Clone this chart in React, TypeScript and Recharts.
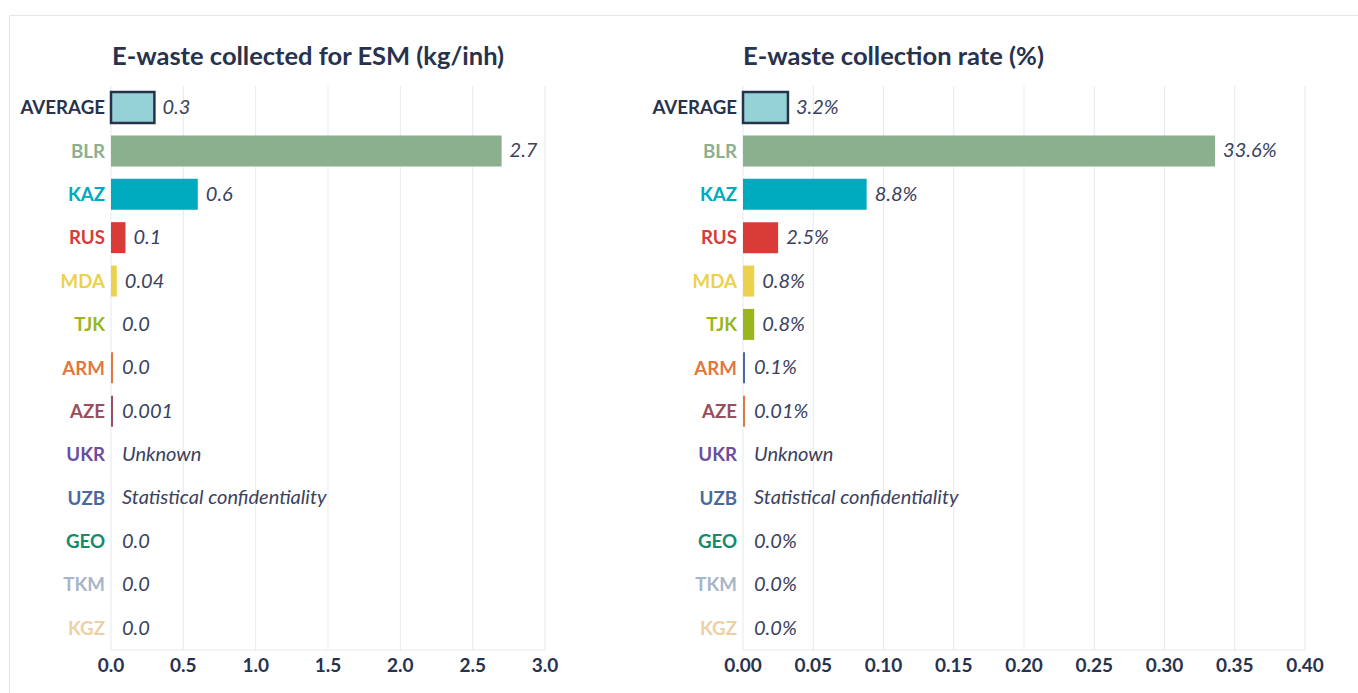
import React from "react";
import { BarChart, Bar, XAxis, YAxis, CartesianGrid, Cell, LabelList } from "recharts";

const countries = ["AVERAGE", "BLR", "KAZ", "RUS", "MDA", "TJK", "ARM", "AZE", "UKR", "UZB", "GEO", "TKM", "KGZ"];
const labelColors = ["#27324d", "#8ab08e", "#00abbf", "#d93c37", "#ecd14b", "#9ab61d", "#e07840", "#9a4f5e", "#6a4fa0", "#4a69a0", "#168a6c", "#a8b5c8", "#ecd0a6"];

// kg per inhabitant (UKR / UZB have no value: drawn as 0 with a text label)
const collectedKg = [0.3, 2.7, 0.6, 0.1, 0.04, 0, 0.004, 0.001, 0, 0, 0, 0, 0];
const collectedLabels = ["0.3", "2.7", "0.6", "0.1", "0.04", "0.0", "0.0", "0.001", "Unknown", "Statistical confidentiality", "0.0", "0.0", "0.0"];
const collectedColors = ["#94d2d5", "#8ab08e", "#00abbf", "#d93c37", "#ecd14b", "#9ab61d", "#e07840", "#9a4f5e", "#6a4fa0", "#4a69a0", "#168a6c", "#a8b5c8", "#ecd0a6"];
const collectedTicks = [0, 0.5, 1, 1.5, 2, 2.5, 3];

// collection rate as a fraction
const rate = [0.032, 0.336, 0.088, 0.025, 0.008, 0.008, 0.001, 0.0001, 0, 0, 0, 0, 0];
const rateLabels = ["3.2%", "33.6%", "8.8%", "2.5%", "0.8%", "0.8%", "0.1%", "0.01%", "Unknown", "Statistical confidentiality", "0.0%", "0.0%", "0.0%"];
const rateColors = ["#94d2d5", "#8ab08e", "#00abbf", "#d93c37", "#ecd14b", "#9ab61d", "#4a69a0", "#e07840", "#6a4fa0", "#4a69a0", "#168a6c", "#a8b5c8", "#ecd0a6"];
const rateTicks = [0, 0.05, 0.1, 0.15, 0.2, 0.25, 0.3, 0.35, 0.4];

const FONT = "Lato, 'Open Sans', sans-serif";
const NAVY = "#27324d";
const GRID = "#e5e9ef";

const CountryTick = (props: any) => {
  const { x, y, payload, index } = props;
  return (
    <text x={x} y={y} dy={6.5} textAnchor="end" fill={labelColors[index]} fontFamily={FONT} fontWeight={700} fontSize={18.7}>
      {payload.value}
    </text>
  );
};

const ValueLabel = (props: any) => {
  const { x, y, width, height, value } = props;
  const w = Math.max(Number(width) || 0, 3);
  return (
    <text x={Number(x) + w + 8} y={Number(y) + Number(height) / 2} dy={6.5} fill="#3a4260" fontFamily={FONT} fontStyle="italic" fontSize={20}>
      {value}
    </text>
  );
};

function Panel({ left, width, axisWidth, rightMargin, title, titleX, values, colors, labels, ticks, digits }: any) {
  const data = countries.map((c, i) => ({ country: c, value: values[i], label: labels[i] }));
  return (
    <div style={{ position: "absolute", left, top: 0, width, height: 693 }}>
      <div style={{ position: "absolute", left: titleX - left, top: 40, fontFamily: FONT, fontWeight: 700, fontSize: 25.5, color: NAVY, whiteSpace: "nowrap" }}>
        {title}
      </div>
      <BarChart width={width} height={693} data={data} layout="vertical" margin={{ top: 86, right: rightMargin, bottom: 13, left: 0 }} barSize={31}>
        <CartesianGrid horizontal={false} stroke={GRID} />
        <XAxis
          type="number"
          domain={[ticks[0], ticks[ticks.length - 1]]}
          ticks={ticks}
          tickFormatter={(v: number) => v.toFixed(digits)}
          tickLine={false}
          tickSize={0}
          tickMargin={9}
          stroke={GRID}
          height={30}
          tick={{ fill: NAVY, fontFamily: FONT, fontWeight: 700, fontSize: 19 }}
        />
        <YAxis type="category" dataKey="country" width={axisWidth} axisLine={false} tickLine={false} tickSize={0} tickMargin={6} tick={<CountryTick />} interval={0} />
        <Bar dataKey="value" isAnimationActive={false} minPointSize={(v: number) => (v > 0 ? 2 : 0.01)}>
          {data.map((d, i) => (
            <Cell key={d.country} fill={colors[i]} stroke={i === 0 ? NAVY : "none"} strokeWidth={i === 0 ? 2.5 : 0} />
          ))}
          <LabelList dataKey="label" content={<ValueLabel />} />
        </Bar>
      </BarChart>
    </div>
  );
}

export default function App() {
  return (
    <div style={{ position: "absolute", left: 0, top: 0, width: 1358, height: 693, overflow: "hidden", background: "#fff" }}>
      <div style={{ position: "absolute", left: 9, top: 15, width: 1400, height: 700, border: "1px solid #e6e6e6" }} />
      <Panel
        left={0}
        width={620}
        axisWidth={111}
        rightMargin={75}
        title="E-waste collected for ESM (kg/inh)"
        titleX={112}
        values={collectedKg}
        colors={collectedColors}
        labels={collectedLabels}
        ticks={collectedTicks}
        digits={1}
      />
      <Panel
        left={620}
        width={738}
        axisWidth={123}
        rightMargin={53}
        title="E-waste collection rate (%)"
        titleX={743}
        values={rate}
        colors={rateColors}
        labels={rateLabels}
        ticks={rateTicks}
        digits={2}
      />
    </div>
  );
}
